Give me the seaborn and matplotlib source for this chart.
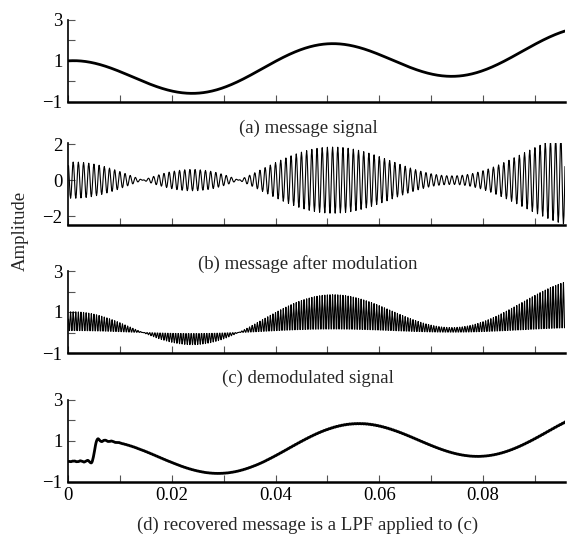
import numpy as np
import pandas as pd
import matplotlib
matplotlib.use("Agg")
import matplotlib.pyplot as plt
import seaborn as sns

"""
Suppressed-carrier AM: message, modulated, demodulated and low-pass recovered signal
"""

# parameters
SAMPLE_RATE = 10000            # samples per second (10 samples per carrier cycle)
CARRIER_FREQ = 1000            # Hz, ~95 cycles across the window
MESSAGE_FREQ = 20              # Hz, message peaks near 0.05 s
MESSAGE_RAMP = 5 / 0.3         # slow rise of the message, per second
N_SAMPLES = 958                # up to ~0.0958 s
FILTER_TAPS = 101              # 0.005 s delay of the recovered message
BAND_EDGES = [0, 0.1, 0.2, 1]  # fraction of Nyquist

PANEL_LABELS = ['(a) message signal', '(b) message after modulation',
                '(c) demodulated signal', '(d) recovered message is a LPF applied to (c)']
Y_LIMITS = [(-1, 3), (-2.5, 2.07), (-1, 3), (-1, 3)]
Y_TICKS = [[-1, 1, 3], [-2, 0, 2], [-1, 1, 3], [-1, 1, 3]]
Y_MINOR = [[0, 2], [], [0, 2], [0, 2]]
X_TICKS = [0, 0.02, 0.04, 0.06, 0.08]
X_MINOR = [0.01, 0.03, 0.05, 0.07, 0.09]
LINE_WIDTHS = [2.0, 0.8, 0.8, 2.0]


def lowpass_taps(n_taps, edges):
    # truncated ideal lowpass, cutoff in the middle of the transition band
    cutoff = (edges[1] + edges[2]) / 2
    k = np.arange(n_taps) - (n_taps - 1) / 2
    taps = cutoff * np.sinc(cutoff * k)
    return taps / taps.sum()


t = np.arange(1, N_SAMPLES + 1) / SAMPLE_RATE
carrier = np.cos(2 * np.pi * CARRIER_FREQ * t)
message = MESSAGE_RAMP * t + np.cos(2 * np.pi * MESSAGE_FREQ * t)
modulated = message * carrier
demodulated = modulated * carrier
taps = lowpass_taps(FILTER_TAPS, BAND_EDGES)
recovered = 2 * np.convolve(demodulated, taps)[:N_SAMPLES]

signals = pd.DataFrame({'time': t, 'a': message, 'b': modulated, 'c': demodulated, 'd': recovered})

sns.set_theme(context='paper', style='ticks')
plt.rcParams['font.family'] = ['Liberation Serif', 'DejaVu Serif']

fig = plt.figure(figsize=(5.7, 5.39), dpi=100)
left, width = 68 / 570, 497 / 570
tops = [20, 143, 271, 400]
bottoms = [101.7, 225, 353, 481.7]

for i, col in enumerate(['a', 'b', 'c', 'd']):
    ax = fig.add_axes([left, 1 - bottoms[i] / 539, width, (bottoms[i] - tops[i]) / 539])
    sns.lineplot(data=signals, x='time', y=col, ax=ax, color='black', lw=LINE_WIDTHS[i],
                 estimator=None, sort=False)
    ax.set_xlim(0, 0.0958)
    ax.set_ylim(*Y_LIMITS[i])
    ax.set_yticks(Y_TICKS[i])
    ax.set_yticks(Y_MINOR[i], minor=True)
    ax.set_xticks(X_TICKS)
    ax.set_xticks(X_MINOR, minor=True)
    ax.set_yticklabels([f'{v:g}'.replace('-', '\u2212') for v in Y_TICKS[i]], fontsize=13.5)
    if i == 3:
        ax.set_xticklabels([f'{v:g}' for v in X_TICKS], fontsize=13.5)
    else:
        ax.set_xticklabels([])
    ax.tick_params(which='both', direction='in', length=5, width=0.8, colors='#555555',
                   labelcolor='black', pad=4)
    ax.set_xlabel('')
    ax.set_ylabel('')
    sns.despine(ax=ax, top=True, right=True)
    ax.spines['left'].set_linewidth(1.2)
    ax.spines['bottom'].set_linewidth(1.8)
    ax.spines['left'].set_color('black')
    ax.spines['bottom'].set_color('black')

label_y = [128, 264, 378, 525]
for lab, y in zip(PANEL_LABELS, label_y):
    fig.text(308 / 570, 1 - y / 539, lab, ha='center', va='center', fontsize=13.5)
fig.text(20 / 570, 1 - 231 / 539, 'Amplitude', rotation=90, ha='center', va='center', fontsize=13.5)

fig.savefig('out.png', dpi=100)
